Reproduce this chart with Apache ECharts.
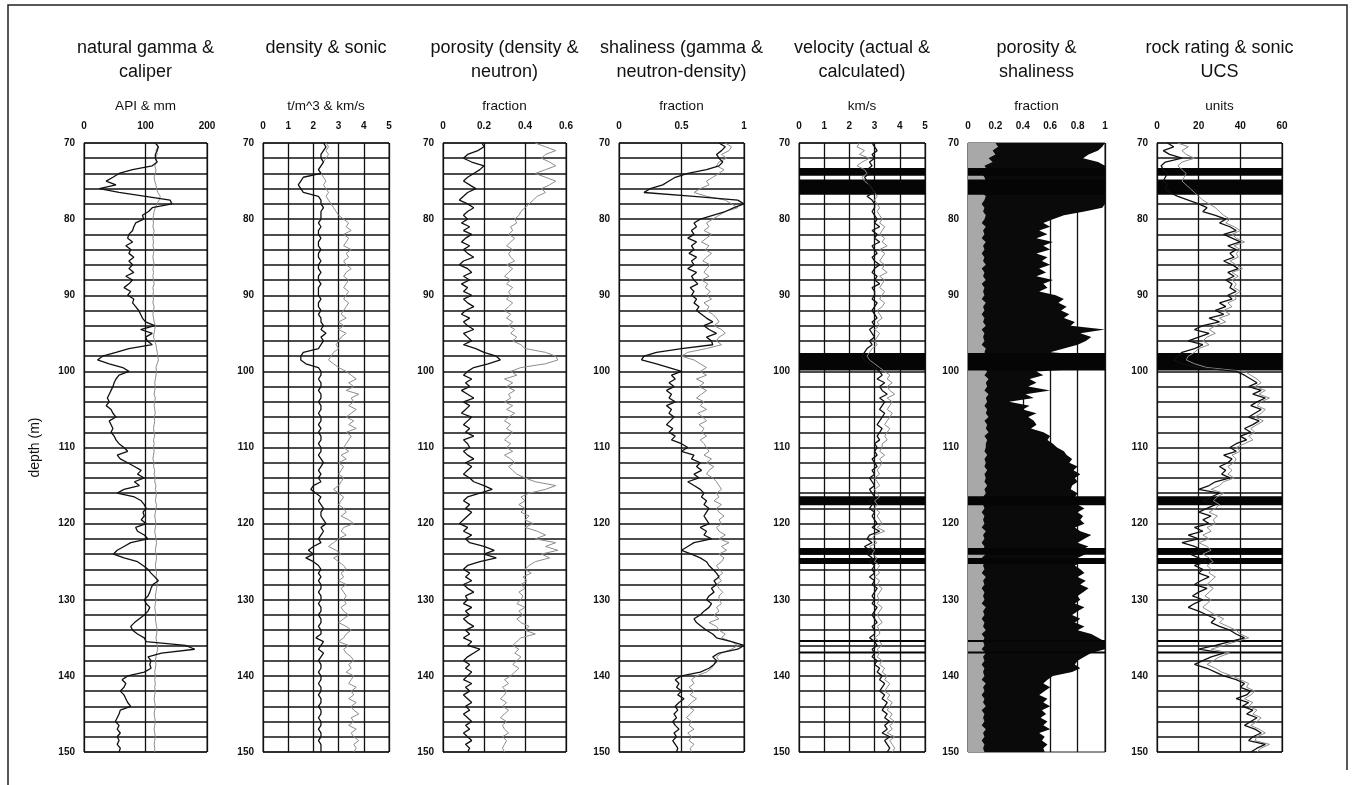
<!DOCTYPE html>
<html>
<head>
<meta charset="utf-8">
<script src="https://cdn.jsdelivr.net/npm/echarts@6/dist/echarts.min.js"></script>
<style>
html, body { margin: 0; background: #fff; }
#chart { width: 1355px; height: 785px; }
</style>
</head>
<body>
<div id="chart"></div>
<script>
// depth samples (m), every 0.5 m
const depths = [
  70,70.5,71,71.5,72,72.5,73,73.5,74,74.5,75,75.5,76,76.5,77,77.5,78,78.5,79,79.5,
  80,80.5,81,81.5,82,82.5,83,83.5,84,84.5,85,85.5,86,86.5,87,87.5,88,88.5,89,89.5,
  90,90.5,91,91.5,92,92.5,93,93.5,94,94.5,95,95.5,96,96.5,97,97.5,98,98.5,99,99.5,
  100,100.5,101,101.5,102,102.5,103,103.5,104,104.5,105,105.5,106,106.5,107,107.5,108,108.5,109,109.5,
  110,110.5,111,111.5,112,112.5,113,113.5,114,114.5,115,115.5,116,116.5,117,117.5,118,118.5,119,119.5,
  120,120.5,121,121.5,122,122.5,123,123.5,124,124.5,125,125.5,126,126.5,127,127.5,128,128.5,129,129.5,
  130,130.5,131,131.5,132,132.5,133,133.5,134,134.5,135,135.5,136,136.5,137,137.5,138,138.5,139,139.5,
  140,140.5,141,141.5,142,142.5,143,143.5,144,144.5,145,145.5,146,146.5,147,147.5,148,148.5,149,149.5,
  150
];

// natural gamma (API) and caliper (mm)
const gamma = [
  116,121,119,116,116,119,111,79,57,47,36,52,25,57,100,140,143,111,105,95,
  97,84,81,79,73,71,79,68,76,73,81,73,79,73,81,68,79,73,65,76,
  71,81,79,84,89,92,95,100,115,92,111,100,103,111,73,52,30,22,41,63,
  73,57,52,49,47,44,41,38,41,36,44,47,52,41,44,47,44,49,52,57,
  65,71,54,59,71,82,93,87,98,82,90,65,54,82,93,98,101,96,98,93,
  101,84,87,98,104,76,65,54,48,65,87,96,104,109,115,121,112,109,107,104,
  98,101,107,104,98,90,82,76,79,87,98,101,165,180,126,104,109,107,109,98,
  71,62,68,65,59,65,68,71,76,59,57,54,51,57,54,59,54,57,54,59,
  57
];
const caliper = [
  118,120,117,119,116,118,115,117,116,114,115,117,118,120,124,122,119,116,114,113,
  112,113,112,114,113,112,113,112,114,113,112,113,114,112,113,112,113,114,112,113,
  112,113,112,114,113,112,113,114,116,115,114,113,115,117,118,119,120,121,119,117,
  118,117,116,115,116,115,114,116,115,114,115,116,114,115,114,113,114,115,113,114,
  113,114,113,112,114,113,115,114,116,115,117,116,118,117,116,118,117,116,115,116,
  117,116,115,116,117,118,117,116,117,118,117,116,117,118,117,118,119,118,117,116,
  117,116,115,116,117,116,117,118,119,118,117,118,119,120,118,117,116,117,116,115,
  116,115,116,115,116,115,114,115,116,115,114,115,116,115,114,115,116,115,114,115,
  115
];

// density (t/m^3) and sonic velocity (km/s)
const density = [
  2.4,2.5,2.4,2.3,2.3,2.4,2.3,2.2,2.3,1.6,1.5,1.4,1.5,1.6,2.2,2.3,2.3,2.4,2.3,2.3,
  2.3,2.2,2.3,2.2,2.2,2.3,2.2,2.2,2.3,2.2,2.2,2.3,2.2,2.2,2.3,2.2,2.2,2.3,2.2,2.2,
  2.2,2.3,2.2,2.2,2.3,2.2,2.3,2.3,2.4,2.3,2.5,2.3,2.4,2.3,2.2,1.6,1.5,1.5,1.7,2.2,
  2.3,2.3,2.2,2.3,2.3,2.2,2.3,2.3,2.2,2.3,2.3,2.2,2.3,2.3,2.2,2.3,2.2,2.3,2.3,2.2,
  2.3,2.3,2.2,2.3,2.4,2.3,2.2,2.3,2.2,2.3,2.0,1.9,2.1,2.3,2.2,2.3,2.4,2.3,2.3,2.4,
  2.5,2.3,2.4,2.3,2.2,2.3,2.0,1.8,2.0,1.7,2.0,2.2,2.3,2.2,2.3,2.2,2.3,2.3,2.2,2.3,
  2.3,2.2,2.3,2.3,2.2,2.3,2.3,2.2,2.3,2.3,2.1,2.4,2.3,2.2,2.4,2.3,2.2,2.3,2.3,2.2,
  2.3,2.3,2.2,2.3,2.3,2.2,2.3,2.3,2.2,2.3,2.3,2.2,2.3,2.3,2.2,2.3,2.3,2.2,2.3,2.3,
  2.3
];
const sonic = [
  2.5,2.6,2.5,2.6,2.5,2.4,2.3,2.2,2.3,2.4,2.5,2.4,2.5,2.6,2.5,2.6,2.7,2.8,2.9,3.0,
  3.2,3.4,3.3,3.5,3.2,3.4,3.3,3.2,3.5,3.3,3.4,3.2,3.3,3.5,3.3,3.2,3.4,3.3,3.2,3.4,
  3.3,3.2,3.4,3.3,3.2,3.1,3.3,3.0,3.2,3.0,3.3,3.1,3.0,2.9,3.0,2.8,2.7,2.6,2.8,3.0,
  3.3,3.5,3.7,3.4,3.6,3.3,3.8,3.5,3.6,3.4,3.7,3.5,3.3,3.6,3.4,3.7,3.3,3.5,3.4,3.3,
  3.2,3.4,3.1,3.3,3.0,3.2,3.1,3.0,3.2,3.1,3.0,2.8,3.0,3.2,3.1,3.0,3.2,3.3,3.1,3.4,
  3.6,3.2,3.1,3.3,3.0,2.8,2.6,2.9,3.1,2.8,3.0,3.2,3.3,3.1,3.2,3.0,3.3,3.1,3.2,3.3,
  3.2,3.3,3.1,3.2,3.4,3.2,3.0,3.3,3.5,3.3,3.2,3.0,3.4,3.2,3.3,3.5,3.6,3.4,3.5,3.3,
  3.6,3.5,3.4,3.7,3.5,3.6,3.4,3.7,3.5,3.6,3.8,3.5,3.6,3.4,3.7,3.5,3.6,3.8,3.6,3.7,
  3.6
];

// porosity from density and from neutron (fraction)
const porDensity = [
  0.19,0.2,0.17,0.12,0.1,0.14,0.2,0.18,0.15,0.12,0.1,0.13,0.16,0.12,0.1,0.08,0.12,0.15,0.12,0.1,
  0.12,0.09,0.13,0.1,0.14,0.11,0.09,0.13,0.1,0.12,0.15,0.1,0.08,0.12,0.14,0.1,0.13,0.09,0.12,0.1,
  0.14,0.1,0.12,0.15,0.11,0.09,0.13,0.1,0.12,0.15,0.1,0.12,0.14,0.1,0.16,0.2,0.26,0.28,0.22,0.15,
  0.12,0.1,0.14,0.11,0.13,0.09,0.12,0.15,0.1,0.13,0.11,0.09,0.14,0.12,0.1,0.13,0.11,0.15,0.1,0.12,
  0.13,0.1,0.12,0.15,0.11,0.14,0.12,0.1,0.13,0.15,0.2,0.24,0.18,0.12,0.1,0.13,0.11,0.14,0.12,0.1,
  0.08,0.12,0.1,0.14,0.11,0.13,0.2,0.25,0.2,0.26,0.18,0.12,0.1,0.13,0.11,0.14,0.1,0.12,0.15,0.11,
  0.12,0.1,0.14,0.11,0.13,0.1,0.12,0.15,0.11,0.13,0.1,0.14,0.12,0.18,0.15,0.12,0.1,0.13,0.11,0.14,
  0.12,0.1,0.14,0.11,0.13,0.1,0.12,0.14,0.11,0.13,0.1,0.12,0.14,0.11,0.13,0.1,0.12,0.14,0.11,0.13,
  0.12
];
const porNeutron = [
  0.45,0.5,0.55,0.5,0.48,0.52,0.55,0.5,0.45,0.5,0.55,0.52,0.48,0.5,0.46,0.44,0.42,0.4,0.38,0.37,
  0.35,0.36,0.33,0.34,0.32,0.35,0.33,0.31,0.34,0.32,0.33,0.35,0.31,0.34,0.32,0.3,0.33,0.31,0.34,0.32,
  0.33,0.31,0.34,0.32,0.3,0.33,0.31,0.34,0.32,0.35,0.33,0.36,0.34,0.38,0.4,0.5,0.55,0.56,0.5,0.38,
  0.33,0.36,0.3,0.34,0.31,0.35,0.32,0.33,0.3,0.34,0.31,0.35,0.32,0.3,0.33,0.31,0.34,0.32,0.3,0.33,
  0.31,0.34,0.3,0.33,0.35,0.32,0.34,0.36,0.4,0.45,0.55,0.5,0.42,0.38,0.4,0.37,0.4,0.38,0.42,0.4,
  0.44,0.4,0.46,0.5,0.45,0.55,0.5,0.56,0.48,0.52,0.45,0.42,0.4,0.43,0.39,0.41,0.38,0.4,0.37,0.39,
  0.38,0.36,0.4,0.37,0.39,0.36,0.38,0.42,0.4,0.45,0.38,0.36,0.34,0.37,0.35,0.38,0.36,0.34,0.37,0.35,
  0.33,0.3,0.32,0.29,0.31,0.3,0.28,0.31,0.29,0.32,0.3,0.28,0.31,0.29,0.3,0.32,0.29,0.31,0.3,0.29,
  0.3
];

// shaliness from gamma and from neutron-density (fraction)
const shaleGamma = [
  0.8,0.85,0.82,0.78,0.8,0.83,0.8,0.7,0.55,0.45,0.4,0.35,0.25,0.2,0.6,0.95,1.0,0.92,0.85,0.75,
  0.65,0.6,0.62,0.58,0.6,0.55,0.62,0.58,0.6,0.56,0.62,0.58,0.6,0.55,0.62,0.58,0.6,0.63,0.57,0.6,
  0.58,0.62,0.6,0.64,0.62,0.66,0.7,0.75,0.68,0.72,0.78,0.7,0.74,0.75,0.5,0.3,0.2,0.18,0.3,0.4,
  0.5,0.42,0.45,0.4,0.44,0.38,0.42,0.4,0.45,0.38,0.42,0.4,0.44,0.41,0.38,0.43,0.4,0.45,0.42,0.5,
  0.55,0.5,0.6,0.58,0.65,0.62,0.66,0.6,0.64,0.55,0.6,0.65,0.68,0.66,0.7,0.68,0.72,0.7,0.68,0.7,
  0.72,0.65,0.7,0.68,0.74,0.6,0.55,0.5,0.58,0.65,0.7,0.72,0.75,0.78,0.8,0.76,0.78,0.74,0.76,0.72,
  0.7,0.74,0.72,0.68,0.65,0.6,0.62,0.66,0.7,0.75,0.78,0.9,1.0,0.95,0.8,0.75,0.78,0.76,0.72,0.65,
  0.5,0.45,0.48,0.46,0.5,0.47,0.52,0.48,0.45,0.47,0.44,0.46,0.43,0.45,0.48,0.44,0.46,0.43,0.45,0.47,
  0.46
];
const shaleND = [
  0.85,0.9,0.88,0.82,0.86,0.8,0.78,0.84,0.8,0.75,0.7,0.72,0.65,0.6,0.7,0.85,0.9,0.95,0.85,0.8,
  0.75,0.7,0.72,0.68,0.74,0.7,0.66,0.72,0.69,0.74,0.7,0.67,0.73,0.7,0.68,0.72,0.66,0.71,0.69,0.73,
  0.7,0.74,0.68,0.72,0.7,0.75,0.78,0.8,0.76,0.82,0.85,0.8,0.78,0.82,0.7,0.55,0.5,0.6,0.65,0.7,
  0.65,0.7,0.62,0.68,0.64,0.7,0.66,0.62,0.68,0.65,0.7,0.63,0.67,0.7,0.64,0.68,0.66,0.7,0.65,0.68,
  0.7,0.72,0.68,0.74,0.7,0.76,0.72,0.7,0.75,0.78,0.8,0.82,0.78,0.8,0.76,0.82,0.78,0.8,0.84,0.8,
  0.82,0.78,0.8,0.85,0.8,0.88,0.82,0.86,0.8,0.84,0.82,0.78,0.8,0.83,0.79,0.82,0.78,0.8,0.83,0.8,
  0.8,0.82,0.78,0.8,0.76,0.8,0.72,0.78,0.8,0.85,0.82,0.9,0.95,0.9,0.82,0.78,0.8,0.76,0.74,0.7,
  0.62,0.58,0.6,0.56,0.6,0.57,0.62,0.58,0.55,0.6,0.57,0.54,0.58,0.56,0.6,0.55,0.58,0.56,0.6,0.57,
  0.58
];

// velocity, actual and calculated (km/s)
const velActual = [
  2.9,3.0,3.1,2.9,3.0,2.8,2.9,2.7,2.8,2.6,2.7,2.8,2.9,3.0,2.7,2.9,3.0,3.0,2.9,3.0,
  3.1,3.0,3.2,2.9,3.1,3.0,3.2,2.9,3.0,3.1,2.9,3.0,3.2,3.0,2.9,3.1,3.0,3.2,2.9,3.0,
  3.0,2.9,3.1,3.0,2.9,3.0,3.1,2.9,3.0,2.8,2.9,3.0,2.8,2.9,2.7,2.6,2.5,2.6,2.8,3.0,
  3.2,3.3,3.1,3.4,3.2,3.3,3.5,3.2,3.4,3.3,3.2,3.4,3.3,3.2,3.1,3.3,3.2,3.1,3.2,3.0,
  3.1,3.0,3.1,2.9,3.0,3.1,2.9,3.0,2.8,2.9,3.0,2.8,2.9,3.0,2.8,2.9,2.8,3.0,2.9,3.0,
  3.1,2.9,3.2,2.8,2.7,2.9,2.6,2.8,2.7,2.9,2.8,3.0,2.9,3.0,2.8,3.0,2.9,3.1,3.0,2.9,
  3.0,2.9,3.1,3.0,2.9,3.0,3.1,2.9,3.0,3.0,2.8,3.0,3.1,2.9,3.0,2.9,3.1,3.0,3.2,3.1,
  3.3,3.2,3.4,3.3,3.2,3.4,3.3,3.5,3.4,3.3,3.5,3.4,3.6,3.4,3.5,3.3,3.6,3.4,3.5,3.6,
  3.5
];
const velCalc = [
  2.4,2.3,2.6,2.4,2.8,2.5,2.3,2.6,2.7,2.5,2.6,2.8,2.9,3.0,3.1,3.0,3.1,3.2,3.1,3.2,
  3.3,3.2,3.4,3.3,3.2,3.4,3.3,3.5,3.2,3.4,3.3,3.2,3.4,3.3,3.5,3.2,3.4,3.3,3.2,3.4,
  3.3,3.2,3.4,3.3,3.1,3.2,3.3,3.1,3.2,3.0,3.2,3.1,3.0,3.1,2.9,2.8,2.7,2.8,3.0,3.2,
  3.4,3.6,3.5,3.7,3.5,3.6,3.8,3.5,3.7,3.6,3.5,3.7,3.6,3.5,3.4,3.6,3.5,3.4,3.5,3.3,
  3.3,3.2,3.4,3.2,3.3,3.2,3.1,3.2,3.0,3.1,3.2,3.0,3.1,3.2,3.0,3.1,3.0,3.2,3.1,3.2,
  3.3,3.1,3.4,3.0,2.9,3.1,2.8,3.0,2.9,3.1,3.0,3.2,3.1,3.2,3.0,3.2,3.1,3.3,3.2,3.1,
  3.2,3.1,3.3,3.2,3.1,3.2,3.3,3.1,3.2,3.2,3.0,3.2,3.3,3.1,3.2,3.1,3.3,3.2,3.4,3.3,
  3.5,3.4,3.6,3.5,3.4,3.6,3.5,3.7,3.6,3.5,3.7,3.6,3.8,3.6,3.7,3.5,3.8,3.6,3.7,3.8,
  3.7
];

// porosity (grey fill) and shaliness edge (black fill), fraction
const porFill = [
  0.2,0.22,0.18,0.2,0.15,0.18,0.12,0.14,0.1,0.12,0.13,0.11,0.12,0.1,0.13,0.12,0.1,0.12,0.11,0.13,
  0.12,0.1,0.13,0.11,0.12,0.1,0.13,0.11,0.12,0.1,0.12,0.11,0.13,0.1,0.12,0.11,0.13,0.1,0.12,0.11,
  0.12,0.1,0.13,0.11,0.12,0.1,0.12,0.11,0.13,0.1,0.12,0.11,0.12,0.1,0.13,0.12,0.14,0.12,0.13,0.11,
  0.14,0.12,0.15,0.13,0.14,0.12,0.15,0.13,0.14,0.12,0.14,0.13,0.15,0.12,0.14,0.13,0.15,0.12,0.14,0.13,
  0.13,0.12,0.14,0.12,0.13,0.12,0.14,0.12,0.13,0.12,0.14,0.12,0.13,0.11,0.13,0.11,0.12,0.1,0.12,0.11,
  0.12,0.1,0.13,0.11,0.12,0.1,0.12,0.11,0.13,0.1,0.12,0.11,0.12,0.1,0.13,0.11,0.12,0.1,0.12,0.11,
  0.12,0.1,0.13,0.11,0.12,0.1,0.12,0.11,0.13,0.1,0.12,0.11,0.12,0.1,0.13,0.11,0.12,0.1,0.12,0.11,
  0.12,0.1,0.13,0.11,0.12,0.1,0.12,0.11,0.13,0.1,0.12,0.11,0.12,0.1,0.13,0.11,0.12,0.1,0.12,0.11,
  0.12
];
const shaleFill = [
  1.0,0.98,0.95,0.88,0.84,0.95,1.0,1.0,1.0,1.0,1.0,1.0,1.0,1.0,1.0,1.0,1.0,0.98,0.85,0.7,
  0.62,0.55,0.6,0.52,0.58,0.5,0.62,0.55,0.6,0.5,0.58,0.54,0.6,0.52,0.57,0.5,0.62,0.55,0.58,0.52,
  0.64,0.7,0.66,0.72,0.68,0.74,0.7,0.78,0.75,1.0,0.82,0.9,0.86,0.8,0.7,0.6,1.0,1.0,1.0,1.0,
  0.5,0.55,0.45,0.5,0.44,0.6,0.42,0.48,0.3,0.45,0.4,0.5,0.44,0.48,0.5,0.46,0.55,0.6,0.58,0.62,
  0.65,0.7,0.72,0.76,0.74,0.8,0.77,0.82,0.78,0.8,0.76,0.75,0.8,0.78,0.82,0.8,0.85,0.8,0.84,0.82,
  0.85,0.78,0.82,0.9,0.85,0.8,0.88,0.82,0.86,0.8,0.84,0.78,0.82,0.85,0.8,0.86,0.82,0.88,0.84,0.8,
  0.82,0.78,0.85,0.8,0.76,0.82,0.78,0.85,0.8,0.9,0.95,1.0,1.0,1.0,0.9,0.85,0.8,0.78,0.82,0.76,
  0.62,0.58,0.55,0.6,0.56,0.52,0.58,0.55,0.6,0.54,0.57,0.53,0.58,0.55,0.6,0.52,0.56,0.54,0.58,0.55,
  0.56
];

// rock rating and sonic UCS (units)
const rockRating = [
  5,8,3,6,12,4,2,3,5,4,3,5,4,6,10,15,20,24,22,28,
  33,30,35,38,32,36,40,34,38,35,37,32,36,39,34,37,33,36,35,38,
  34,36,30,33,28,32,25,30,22,18,25,20,15,22,18,12,10,8,12,20,
  38,42,45,48,44,50,46,52,48,45,50,47,44,49,46,42,45,40,43,38,
  35,38,32,36,34,30,33,31,35,28,25,20,30,26,22,28,24,20,26,22,
  25,18,22,15,20,12,18,22,16,20,24,18,22,20,25,21,18,24,20,17,
  22,18,15,20,24,28,26,30,35,38,42,35,28,20,32,26,22,18,24,28,
  32,38,42,40,45,43,38,44,41,46,43,48,45,42,47,50,46,44,52,48,
  45
];
const sonicUCS = [
  10,15,12,14,18,12,10,12,14,13,12,14,16,18,20,22,25,28,30,32,
  35,33,37,40,36,38,42,37,40,38,39,35,38,41,36,39,36,38,37,40,
  37,38,34,36,32,35,30,33,28,25,28,24,22,25,20,18,15,14,18,24,
  42,45,48,50,47,52,49,54,50,48,52,50,47,51,48,45,47,44,46,42,
  38,40,36,38,37,34,36,34,37,32,30,26,32,29,27,30,28,25,29,27,
  28,24,26,22,25,20,24,26,22,25,27,24,26,25,28,26,24,27,25,23,
  26,24,22,25,28,32,30,34,38,40,44,38,32,26,35,30,27,24,28,31,
  36,40,44,43,47,45,42,46,44,48,46,50,48,45,49,52,48,47,54,50,
  48
];

// core-loss intervals drawn as solid black bands (m)
const lossTop = [73.3, 74.8, 97.6, 116.4, 123.2, 124.5, 135.3, 136.8];
const lossBase = [74.3, 76.8, 99.9, 117.6, 124.1, 125.3, 135.55, 137.05];

const panels = [
  { title: 'natural gamma &\ncaliper', unit: 'API & mm', left: 84, width: 123, max: 200, step: 100, dark: gamma, light: caliper },
  { title: 'density & sonic', unit: 't/m^3 & km/s', left: 263, width: 126, max: 5, step: 1, dark: density, light: sonic },
  { title: 'porosity (density &\nneutron)', unit: 'fraction', left: 443, width: 123, max: 0.6, step: 0.2, dark: porDensity, light: porNeutron },
  { title: 'shaliness (gamma &\nneutron-density)', unit: 'fraction', left: 619, width: 125, max: 1, step: 0.5, dark: shaleGamma, light: shaleND },
  { title: 'velocity (actual &\ncalculated)', unit: 'km/s', left: 799, width: 126, max: 5, step: 1, dark: velActual, light: velCalc, bands: true },
  { title: 'porosity &\nshaliness', unit: 'fraction', left: 968, width: 137, max: 1, step: 0.2, fill: true, bands: true },
  { title: 'rock rating & sonic\nUCS', unit: 'units', left: 1157, width: 125, max: 60, step: 20, dark: rockRating, light: sonicUCS, bands: true }
];

const TOP = 143, BOTTOM = 33;
const FONT = '"Liberation Sans", Arial, sans-serif';

const grids = [], xAxes = [], yAxes = [], series = [], graphics = [];

function pairs(vals) {
  return depths.map((d, i) => [vals[i], d]);
}

function fillSeries(idx, vals, color) {
  return {
    type: 'custom', xAxisIndex: idx, yAxisIndex: idx, silent: true,
    data: [[0, 70]],
    renderItem: function (params, api) {
      const pts = [api.coord([0, depths[0]])];
      for (let i = 0; i < depths.length; i++) pts.push(api.coord([vals[i], depths[i]]));
      pts.push(api.coord([0, depths[depths.length - 1]]));
      return { type: 'polygon', shape: { points: pts }, style: { fill: color, stroke: null } };
    }
  };
}

panels.forEach(function (p, i) {
  grids.push({ left: p.left, width: p.width, top: TOP, bottom: BOTTOM, show: true, borderColor: '#222', borderWidth: 1 });
  xAxes.push({
    gridIndex: i, type: 'value', position: 'top', min: 0, max: p.max, interval: p.step,
    axisLine: { show: false }, axisTick: { show: false },
    axisLabel: { show: true, showMinLabel: true, showMaxLabel: true, margin: 12, fontSize: 10, fontWeight: 'bold', color: '#111', fontFamily: FONT },
    splitLine: { show: true, lineStyle: { color: '#111', width: 1.3 } }
  });
  yAxes.push({
    gridIndex: i, type: 'value', inverse: true, min: 70, max: 150, interval: 2,
    name: i === 0 ? 'depth (m)' : '', nameLocation: 'middle', nameGap: 42, nameRotate: 90,
    nameTextStyle: { fontSize: 14, color: '#111', fontFamily: FONT },
    axisLine: { show: false }, axisTick: { show: false },
    axisLabel: {
      margin: 9, fontSize: 10, fontWeight: 'bold', color: '#111', fontFamily: FONT, hideOverlap: false,
      formatter: function (v) { return v % 10 === 0 ? String(v) : ''; }
    },
    splitLine: { show: !p.fill, lineStyle: { color: '#111', width: 1.6 } }
  });

  if (p.fill) {
    series.push(fillSeries(i, shaleFill, '#0a0a0a'));
    series.push(fillSeries(i, porFill, '#a8a8a8'));
  } else {
    series.push({ type: 'line', xAxisIndex: i, yAxisIndex: i, data: pairs(p.light), symbol: 'none', silent: true,
      lineStyle: { color: '#8c8c8c', width: 1 } });
    series.push({ type: 'line', xAxisIndex: i, yAxisIndex: i, data: pairs(p.dark), symbol: 'none', silent: true,
      lineStyle: { color: '#111', width: 1.3 } });
  }

  if (p.bands) {
    series.push({
      type: 'custom', xAxisIndex: i, yAxisIndex: i, silent: true,
      data: lossTop.map((t, k) => [0, t, lossBase[k]]),
      encode: { x: 0, y: [1, 2] },
      renderItem: function (params, api) {
        const a = api.coord([0, api.value(1)]);
        const b = api.coord([p.max, api.value(2)]);
        return { type: 'rect', shape: { x: a[0], y: a[1], width: b[0] - a[0], height: b[1] - a[1] }, style: { fill: '#050505' } };
      }
    });
  }

  const cx = p.left + p.width / 2;
  graphics.push({ type: 'text', x: cx, y: 36, silent: true,
    style: { text: p.title, textAlign: 'center', textVerticalAlign: 'top', fontSize: 18, lineHeight: 24, fill: '#111', fontFamily: FONT } });
  graphics.push({ type: 'text', x: cx, y: 106, silent: true,
    style: { text: p.unit, textAlign: 'center', textVerticalAlign: 'middle', fontSize: 13.5, fill: '#111', fontFamily: FONT } });
});

// outer frame of the figure
graphics.push({ type: 'polyline', silent: true, shape: { points: [[8, 785], [8, 5], [1347, 5], [1347, 770]] },
  style: { stroke: '#222', lineWidth: 1.5, fill: null } });

const chart = echarts.init(document.getElementById('chart'), null, { renderer: 'canvas' });
chart.setOption({
  animation: false,
  backgroundColor: '#fff',
  grid: grids,
  xAxis: xAxes,
  yAxis: yAxes,
  series: series,
  graphic: graphics
});
</script>
</body>
</html>
